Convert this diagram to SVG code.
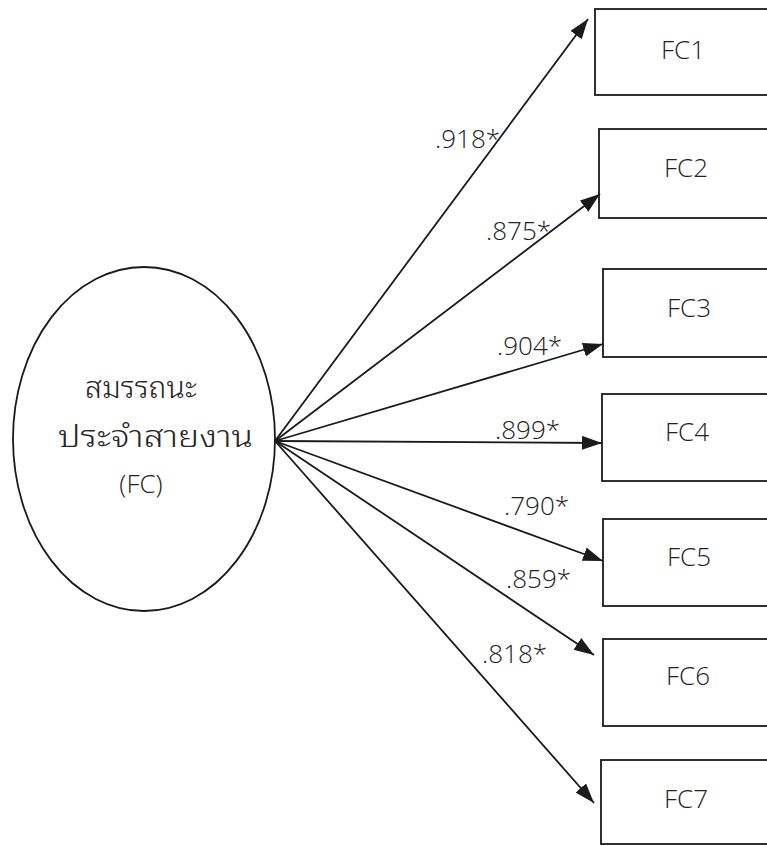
<svg xmlns="http://www.w3.org/2000/svg" width="767" height="846" viewBox="0 0 767 846">
  <style>
    .shape { fill: #ffffff; stroke: #1a1a1a; stroke-width: 1.8; }
    .link { fill: none; stroke: #1a1a1a; stroke-width: 1.8; marker-end: url(#head); }
    .lbl { font-family: "Open Sans", "Noto Sans", "DejaVu Sans", sans-serif; font-weight: 350; font-size: 26px; fill: #222222; }
    .th { font-family: "Noto Sans Thai Looped", "Noto Sans Thai", "Loma", "Waree", "Garuda", "Noto Sans", sans-serif; font-weight: 300; font-size: 30px; fill: #262626; }
    .mid { text-anchor: middle; }
  </style>
  <defs>
    <marker id="head" markerUnits="userSpaceOnUse" markerWidth="22" markerHeight="16" refX="20" refY="7" orient="auto">
      <path d="M0,0 L20,7 L0,14 Z" fill="#1a1a1a"/>
    </marker>
  </defs>
  <rect width="767" height="846" fill="#ffffff"/>

  <!-- latent factor -->
  <g id="FC">
    <ellipse class="shape" cx="144" cy="439" rx="131" ry="172" stroke-width="2"/>
    <text class="th" x="85" y="398" textLength="112" lengthAdjust="spacingAndGlyphs">สมรรถนะ</text>
    <text class="th" x="58" y="447" textLength="195" lengthAdjust="spacingAndGlyphs">ประจำสายงาน</text>
    <text class="lbl mid" x="141" y="493">(FC)</text>
  </g>

  <!-- indicators -->
  <g id="FC1"><rect class="shape" x="595" y="9" width="190" height="86"/><text class="lbl mid" x="683" y="59">FC1</text></g>
  <g id="FC2"><rect class="shape" x="599" y="129" width="190" height="89"/><text class="lbl mid" x="686" y="177">FC2</text></g>
  <g id="FC3"><rect class="shape" x="603" y="269" width="190" height="88"/><text class="lbl mid" x="689" y="317">FC3</text></g>
  <g id="FC4"><rect class="shape" x="602" y="394" width="190" height="87"/><text class="lbl mid" x="687" y="441">FC4</text></g>
  <g id="FC5"><rect class="shape" x="603" y="519" width="190" height="87"/><text class="lbl mid" x="689" y="566">FC5</text></g>
  <g id="FC6"><rect class="shape" x="603" y="639" width="190" height="87"/><text class="lbl mid" x="688" y="685">FC6</text></g>
  <g id="FC7"><rect class="shape" x="601" y="760" width="190" height="84"/><text class="lbl mid" x="686" y="808">FC7</text></g>

  <!-- loadings -->
  <g id="connectors">
    <line class="link" x1="275" y1="441" x2="588" y2="19"/>
    <line class="link" x1="275" y1="441" x2="600" y2="194"/>
    <line class="link" x1="275" y1="441" x2="603" y2="344"/>
    <line class="link" x1="275" y1="441" x2="602" y2="443"/>
    <line class="link" x1="275" y1="441" x2="603" y2="561"/>
    <line class="link" x1="275" y1="441" x2="594" y2="655"/>
    <line class="link" x1="275" y1="441" x2="594" y2="803"/>
    <text class="lbl" x="435" y="148">.918*</text>
    <text class="lbl" x="486" y="240">.875*</text>
    <text class="lbl" x="497" y="355">.904*</text>
    <text class="lbl" x="495" y="439">.899*</text>
    <text class="lbl" x="504" y="515">.790*</text>
    <text class="lbl" x="506" y="588">.859*</text>
    <text class="lbl" x="482" y="663">.818*</text>
  </g>
</svg>
